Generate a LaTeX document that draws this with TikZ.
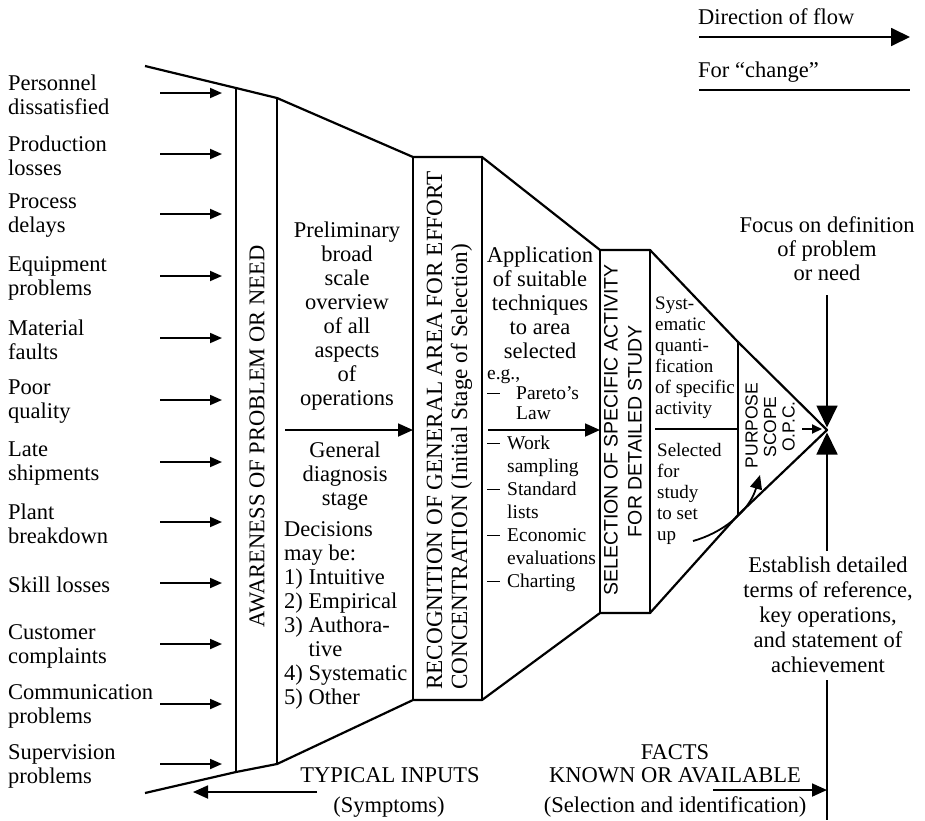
\documentclass[tikz,border=0pt]{standalone}
\usepackage{fontspec}
\setmainfont{Liberation Serif}
\setsansfont{Liberation Sans}
\usetikzlibrary{arrows.meta}
\newcommand\bigtxt{\fontsize{22.5}{24}\selectfont}
\newcommand\rottxt{\fontsize{23.2}{24}\selectfont}
\newcommand\midtxt{\fontsize{19.5}{20}\selectfont}
\newcommand\midtxtb{\fontsize{19.5}{23}\selectfont}
\newcommand\smtxt{\fontsize{19}{21}\selectfont}
\newcommand\sanstxt{\sffamily\fontsize{19.5}{20}\selectfont}
\newcommand\sanssm{\sffamily\fontsize{17.5}{18}\selectfont}
\newcommand\dashitem{\rule[0.3em]{13pt}{1pt}}

\begin{document}
\begin{tikzpicture}[x=1pt,y=-1pt,
  outline/.style={line width=2.2pt, line join=round},
  shaft/.style={line width=1.8pt},
  inarrow/.style={shaft,-{Triangle[length=12pt,width=10pt]}},
  flowarrow/.style={shaft,-{Triangle[length=15pt,width=13pt]}},
  bigarrow/.style={shaft,-{Triangle[length=22pt,width=21pt]}},
  legarrow/.style={shaft,-{Triangle[length=19pt,width=18pt]}},
  tinyarrow/.style={shaft,-{Triangle[length=10pt,width=9pt]}},
  curvearrow/.style={shaft,-{Triangle[length=14pt,width=12pt]}},
  label/.style={inner sep=0pt, font=\bigtxt},
  inlabel/.style={label, anchor=west, align=left},
  rot/.style={rotate=90, inner sep=0pt},
]
\useasboundingbox (0,0) rectangle (925,820);

% legend
\node[label, anchor=west] (dirflow) at (698,17) {Direction of flow};
\node[label, anchor=west] (forchange) at (698,72) {For ``change''};
\coordinate (lg1s) at (699,37);
\coordinate (lg1e) at (910,37);
\coordinate (lg2s) at (699,90);
\coordinate (lg2e) at (910,90);
\draw[legarrow] (lg1s) -- (lg1e);
\draw[shaft] (lg2s) -- (lg2e);

% symptoms entering the funnel
\foreach \n/\y/\t in {
  1/93/{Personnel\\dissatisfied},
  2/154/{Production\\losses},
  3/214/{Process\\delays},
  4/276/{Equipment\\problems},
  5/338/{Material\\faults},
  6/400/{Poor\\quality},
  7/462/{Late\\shipments},
  8/522/{Plant\\breakdown},
  9/583/{Skill losses},
  10/644/{Customer\\complaints},
  11/704/{Communication\\problems},
  12/764/{Supervision\\problems}}{
  \node[inlabel] (in\n) at (8,\y+2) {\t};
  \coordinate (ins\n) at (160,\y);
  \coordinate (ine\n) at (222,\y);
  \draw[inarrow] (ins\n) -- (ine\n);
}

% funnel outline
\coordinate (t0) at (145,66);
\coordinate (t1) at (236,88);
\coordinate (t2) at (277,98);
\coordinate (t3) at (413,157);
\coordinate (t4) at (482,157);
\coordinate (t5) at (600,250);
\coordinate (t6) at (650,250);
\coordinate (t7) at (738,342);
\coordinate (apex) at (827,430);
\coordinate (b0) at (145,793);
\coordinate (b1) at (236,772);
\coordinate (b2) at (277,764);
\coordinate (b3) at (413,700);
\coordinate (b4) at (482,700);
\coordinate (b5) at (600,613);
\coordinate (b6) at (650,613);
\coordinate (b7) at (738,515);
\draw[outline] (t0) -- (t1) -- (t2) -- (t3) -- (t4) -- (t5) -- (t6) -- (t7) -- (apex)
  -- (b7) -- (b6) -- (b5) -- (b4) -- (b3) -- (b2) -- (b1) -- (b0);
\foreach \k in {1,...,7}{ \draw[outline] (t\k) -- (b\k); }
\coordinate (q1) at (655,429);
\coordinate (q2) at (738,429);
\draw[outline] (q1) -- (q2);

% stage labels (rotated)
\node[rot, font=\bigtxt] (aware) at (257,436.5) {AWARENESS OF PROBLEM OR NEED};
\node[rot, anchor=base west, font=\rottxt] (recog1) at (442,690) {RECOGNITION OF GENERAL AREA FOR EFFORT};
\node[rot, anchor=base west, font=\rottxt] (recog2) at (467,690) {CONCENTRATION (Initial Stage of Selection)};
\node[rot, font=\sanstxt] (sel1) at (611,430) {SELECTION OF SPECIFIC ACTIVITY};
\node[rot, font=\sanstxt] (sel2) at (635,431) {FOR DETAILED STUDY};
\node[rot, font=\sanssm] (purp1) at (751.5,425.5) {PURPOSE};
\node[rot, font=\sanssm] (purp2) at (770,427) {SCOPE};
\node[rot, font=\sanssm] (purp3) at (788.5,426.5) {O.P.C.};

% texts inside the funnel
\node[label, align=center] (prelim) at (347,316) {Preliminary\\broad\\scale\\overview\\of all\\aspects\\of\\operations};
\node[label, align=center] (diag) at (345,476) {General\\diagnosis\\stage};
\node[label, align=left, anchor=west] (decide) at (284,615) {Decisions\\may be:\\1) Intuitive\\2) Empirical\\3) Authora-\\\phantom{3) }tive\\4) Systematic\\5) Other};
\node[label, align=center] (appl) at (540,303) {Application\\of suitable\\techniques\\to area\\selected};
\node[inner sep=0pt, font=\midtxt, align=left, anchor=west] (eg1) at (487,395)
  {e.g.,\\\makebox[29pt][l]{\dashitem}Pareto's\\\hspace*{29pt}Law};
\node[inner sep=0pt, font=\midtxtb, align=left, anchor=west] (eg2) at (487,514)
  {\makebox[20pt][l]{\dashitem}Work\\\hspace*{20pt}sampling\\\makebox[20pt][l]{\dashitem}Standard\\\hspace*{20pt}lists\\\makebox[20pt][l]{\dashitem}Economic\\\hspace*{20pt}evaluations\\\makebox[20pt][l]{\dashitem}Charting};
\node[inner sep=0pt, font=\smtxt, align=left, anchor=west] (syst) at (655,358) {Syst-\\ematic\\quanti-\\fication\\of specific\\activity};
\node[inner sep=0pt, font=\smtxt, align=left, anchor=west] (selup) at (657,494) {Selected\\for\\study\\to set\\up};

% flow arrows inside the funnel
\coordinate (f1s) at (285,430);
\draw[flowarrow] (f1s) -- (t3 |- f1s);
\coordinate (f2s) at (488,430);
\draw[flowarrow] (f2s) -- (t5 |- f2s);
\coordinate (pa1) at (802,429);
\coordinate (pa2) at (822,429);
\draw[tinyarrow] (pa1) -- (pa2);
\coordinate (cs) at (693,541);
\coordinate (ce) at (760,475);
\draw[curvearrow] (cs) .. controls (722,533) and (749,512) .. (ce);

% right-hand side
\node[label, align=center] (focus) at (827,249) {Focus on definition\\of problem\\or need};
\node[inner sep=0pt, font=\fontsize{22.5}{25}\selectfont, align=center] (estab) at (828,615)
  {Establish detailed\\terms of reference,\\key operations,\\and statement of\\achievement};
\coordinate (ftop) at (827,295);
\coordinate (etop) at (827,551);
\coordinate (ebot) at (827,680);
\coordinate (eend) at (827,820);
\draw[bigarrow, shorten >=2.5pt] (ftop) -- (apex);
\draw[bigarrow, shorten >=2.5pt] (etop) -- (apex);
\draw[shaft] (ebot) -- (eend);

% bottom captions
\node[label] (typin) at (390,775) {TYPICAL INPUTS};
\node[label] (sympt) at (389,807) {(Symptoms)};
\coordinate (tis) at (317,792);
\coordinate (tie) at (193,792);
\draw[flowarrow] (tis) -- (tie);
\node[label] (facts) at (675,752) {FACTS};
\node[label] (known) at (675,775) {KNOWN OR AVAILABLE};
\node[label] (selid) at (675,807) {(Selection and identification)};
\coordinate (fas) at (713,790);
\draw[flowarrow] (fas) -- (ebot |- fas);
\end{tikzpicture}
\end{document}
